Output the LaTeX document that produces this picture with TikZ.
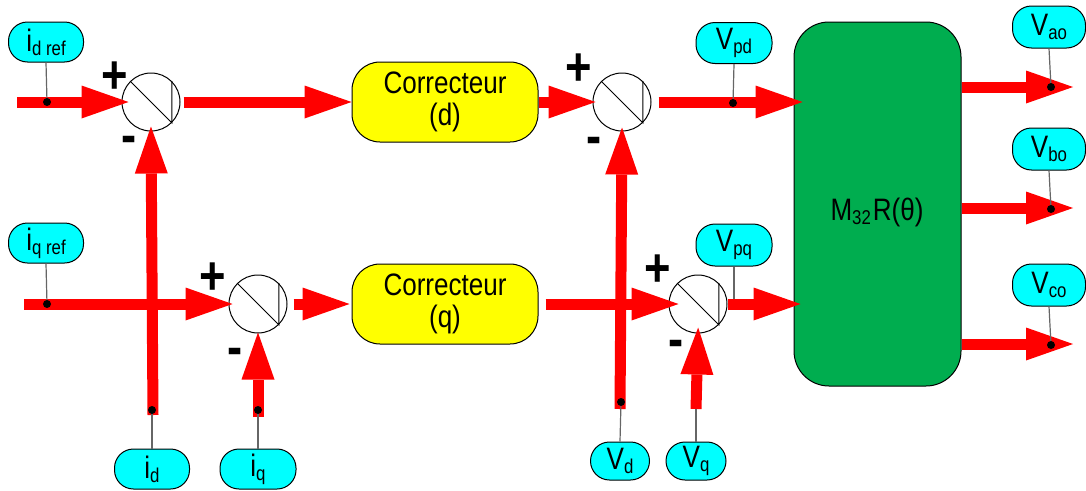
\documentclass[tikz,border=0pt]{standalone}
\usepackage{fontspec}
\setmainfont{Liberation Sans}[FakeStretch=0.84]
\usetikzlibrary{arrows.meta}
\definecolor{tagcyan}{RGB}{0,255,255}
\definecolor{boxgreen}{RGB}{0,173,79}
\definecolor{sigred}{RGB}{255,0,0}
\definecolor{boxyellow}{RGB}{255,255,0}
\newcommand\tagtxt[2]{{\fontsize{31}{31}\selectfont #1}\raisebox{-4pt}{\fontsize{20}{20}\selectfont #2}}
\begin{document}
\begin{tikzpicture}[x=1pt,y=-1pt,
 sig/.style={draw=sigred, line width=11pt, -{Triangle[length=47pt,width=33pt,line width=0pt]}},
 tagbox/.style={draw=black, fill=tagcyan, rounded corners=19pt, line width=1pt, inner sep=0pt, minimum width=75pt, minimum height=40pt},
 sumnode/.style={circle, draw=black, fill=white, line width=1pt, minimum size=58pt, inner sep=0pt},
 corr/.style={draw=black, fill=boxyellow, rounded corners=28pt, line width=1pt, minimum width=186pt, minimum height=80pt, inner sep=0pt, align=center, font=\fontsize{31}{32}\selectfont},
 lead/.style={draw=black!60, line width=1.2pt},
 dotnode/.style={circle, fill=black, inner sep=0pt, minimum size=8pt},
 plussign/.style={font=\fontsize{54}{54}\selectfont\bfseries, inner sep=0pt},
 minussign/.style={font=\fontsize{54}{54}\selectfont\bfseries, inner sep=0pt}
]
\useasboundingbox (0,0) rectangle (1086,490);

% tags
\node[tagbox] (tIdref) at (46,42) {\tagtxt{i}{d ref}};
\node[tagbox] (tIqref) at (46,243) {\tagtxt{i}{q ref}};
\node[tagbox] (tId) at (152,469) {\tagtxt{i}{d}};
\node[tagbox, minimum width=76pt] (tIq) at (258,469) {\tagtxt{i}{q}};
\node[tagbox, minimum width=59pt, minimum height=38pt] (tVd) at (620,461) {\tagtxt{V}{d}};
\node[tagbox, minimum width=60pt, minimum height=38pt] (tVq) at (696,461) {\tagtxt{V}{q}};
\node[tagbox, minimum width=76pt, minimum height=41pt] (tVpd) at (734,43) {\tagtxt{V}{pd}};
\node[tagbox, minimum width=76pt, minimum height=42pt] (tVpq) at (734,245) {\tagtxt{V}{pq}};
\node[tagbox, minimum width=73pt, minimum height=42pt] (tVao) at (1049,27) {\tagtxt{V}{ao}};
\node[tagbox, minimum width=73pt, minimum height=42pt] (tVbo) at (1049,149) {\tagtxt{V}{bo}};
\node[tagbox, minimum width=73pt, minimum height=42pt] (tVco) at (1049,285) {\tagtxt{V}{co}};

% summing junctions
\node[sumnode] (s1) at (151,102) {};
\node[sumnode] (s2) at (622,102) {};
\node[sumnode] (s3) at (258,304) {};
\node[sumnode] (s4) at (698,304) {};
\foreach \s in {s1,s2,s3,s4}
  \draw[line width=1pt] (\s.135) -- (\s.-45) -- (\s.45);

% signs
\node[plussign] (p1) at (115,78) {+};
\node[minussign] (m1) at (129,145) {-};
\node[plussign] (p2) at (579,70) {+};
\node[minussign] (m2) at (594,146) {-};
\node[plussign] (p3) at (213,279) {+};
\node[minussign] (m3) at (235,357) {-};
\node[plussign] (p4) at (658,271) {+};
\node[minussign] (m4) at (676,349) {-};

% blocks
\node[corr] (cd) at (445,102) {Correcteur\\(d)};
\node[corr] (cq) at (445,304) {Correcteur\\(q)};
\node[draw=black, fill=boxgreen, rounded corners=35pt, line width=1pt, minimum width=167pt, minimum height=364pt, inner sep=0pt] (M) at (877.5,204) {};
\node[font=\fontsize{31}{31}\selectfont, inner sep=0pt] (Mlab) at (877,212) {M\raisebox{-4pt}{\fontsize{20}{20}\selectfont 32}\kern2pt R(θ)};

% free ends
\coordinate (inD) at (17,102);
\coordinate (inQ) at (24,304);
\coordinate (bId) at (153,415);
\coordinate (bIq) at (258,417);
\coordinate (bVd) at (620,409);
\coordinate (bVq) at (696,409);
\coordinate (oA) at (1073,87);
\coordinate (oB) at (1073,208);
\coordinate (oC) at (1073,344);
\coordinate (jVpq) at (734,299);

% signal arrows
\draw[sig, shorten >=-7pt] (inD) -- (s1.west);
\draw[sig, shorten <=3pt] (s1.east) -- (cd.west);
\draw[sig, shorten >=-3pt] (cd.east) -- (s2.west);
\draw[sig, shorten <=7pt, shorten >=-9pt] (s2.east) -- (M.west |- s2.east);
\draw[sig, shorten >=-4pt] (inQ) -- (s3.west);
\draw[sig, shorten <=6pt, shorten >=2pt] (s3.east) -- (cq.west);
\draw[sig, shorten <=7pt, shorten >=-10pt] (cq.east) -- (s4.west);
\draw[sig, shorten >=-7pt] (s4.east) -- (M.west |- s4.east);
\draw[sig, shorten >=-5pt] (bId) -- (s1.south);
\draw[sig, shorten >=-1pt] (bIq) -- (s3.south);
\draw[sig, shorten >=-4pt] (bVd) -- (s2.south);
\draw[sig, shorten >=-6pt] (bVq) -- (s4.south);
\draw[sig] (M.east |- oA) -- (oA);
\draw[sig] (M.east |- oB) -- (oB);
\draw[sig] (M.east |- oC) -- (oC);

% dots and leads
\coordinate (cIdref) at (47,102);
\coordinate (cIqref) at (47,304);
\coordinate (cId) at (152,410);
\coordinate (cIq) at (258,410);
\coordinate (cVd) at (621,402);
\coordinate (cVpd) at (733,103);
\coordinate (cVao) at (1051,87);
\coordinate (cVbo) at (1051,209);
\coordinate (cVco) at (1051,345);
\draw[lead] (tIdref.south) -- (cIdref);
\draw[lead] (tIqref.south) -- (cIqref);
\draw[lead] (tId.north) -- (cId);
\draw[lead] (tIq.north) -- (cIq);
\draw[lead] (tVd.north) -- (cVd);
\draw[lead] (tVq.north) -- (bVq);
\draw[lead] (tVpd.south) -- (cVpd);
\draw[lead] (tVpq.south) -- (jVpq);
\draw[lead] (tVao.south) -- (cVao);
\draw[lead] (tVbo.south) -- (cVbo);
\draw[lead] (tVco.south) -- (cVco);
\node[dotnode] (dIdref) at (cIdref) {};
\node[dotnode] (dIqref) at (cIqref) {};
\node[dotnode] (dId) at (cId) {};
\node[dotnode] (dIq) at (cIq) {};
\node[dotnode] (dVd) at (cVd) {};
\node[dotnode] (dVpd) at (cVpd) {};
\node[dotnode] (dVao) at (cVao) {};
\node[dotnode] (dVbo) at (cVbo) {};
\node[dotnode] (dVco) at (cVco) {};
\end{tikzpicture}
\end{document}
